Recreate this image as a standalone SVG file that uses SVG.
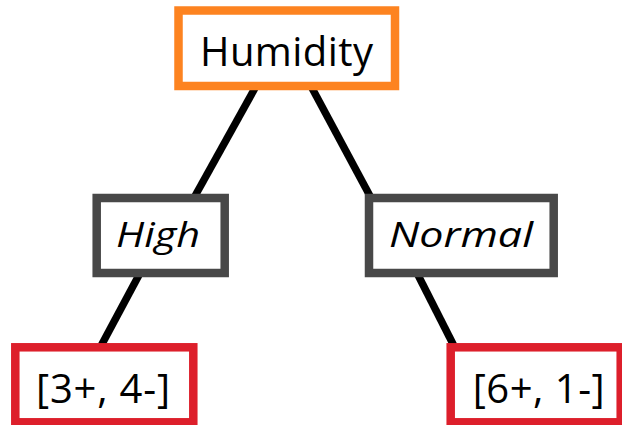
<svg xmlns="http://www.w3.org/2000/svg" width="622" height="425" viewBox="0 0 622 425">
  <style>
    .box { fill: #ffffff; stroke-width: 8.5; }
    .root { stroke: #FD8320; }
    .branch { stroke: #484848; }
    .leaf { stroke: #DD1F2B; }
    .t { font-family: "Open Sans", "Liberation Sans", sans-serif; fill: #000000; }
    .it { font-style: italic; font-size: 34px; }
    .big { font-size: 40px; }
    .edge { stroke: #000000; stroke-width: 7.5; stroke-linecap: butt; fill: none; }
  </style>
  <rect width="622" height="425" fill="#ffffff"/>
  <g id="connectors">
    <line class="edge" x1="255" y1="88" x2="195" y2="196"/>
    <line class="edge" x1="312" y1="88" x2="370" y2="196"/>
    <line class="edge" x1="139" y1="275" x2="101.5" y2="345"/>
    <line class="edge" x1="418" y1="275" x2="453.5" y2="345"/>
  </g>
  <g id="humidity">
    <rect class="box root" x="178.5" y="10.5" width="216.5" height="75.5"/>
    <text class="t big" x="200" y="66" textLength="173">Humidity</text>
  </g>
  <g id="high">
    <rect class="box branch" x="96.7" y="198" width="128" height="75"/>
    <text class="t it" x="116" y="246.7" textLength="84" lengthAdjust="spacingAndGlyphs">High</text>
  </g>
  <g id="normal">
    <rect class="box branch" x="369" y="198" width="184.7" height="75"/>
    <text class="t it" x="389" y="246.7" textLength="144" lengthAdjust="spacingAndGlyphs">Normal</text>
  </g>
  <g id="leaf-left">
    <rect class="box leaf" x="15.3" y="347.3" width="178" height="75"/>
    <text class="t big" x="36" y="402.5" textLength="134">[3+, 4-]</text>
  </g>
  <g id="leaf-right">
    <rect class="box leaf" x="450.7" y="347.3" width="170" height="75"/>
    <text class="t big" x="472.7" y="402.5" textLength="132">[6+, 1-]</text>
  </g>
</svg>
